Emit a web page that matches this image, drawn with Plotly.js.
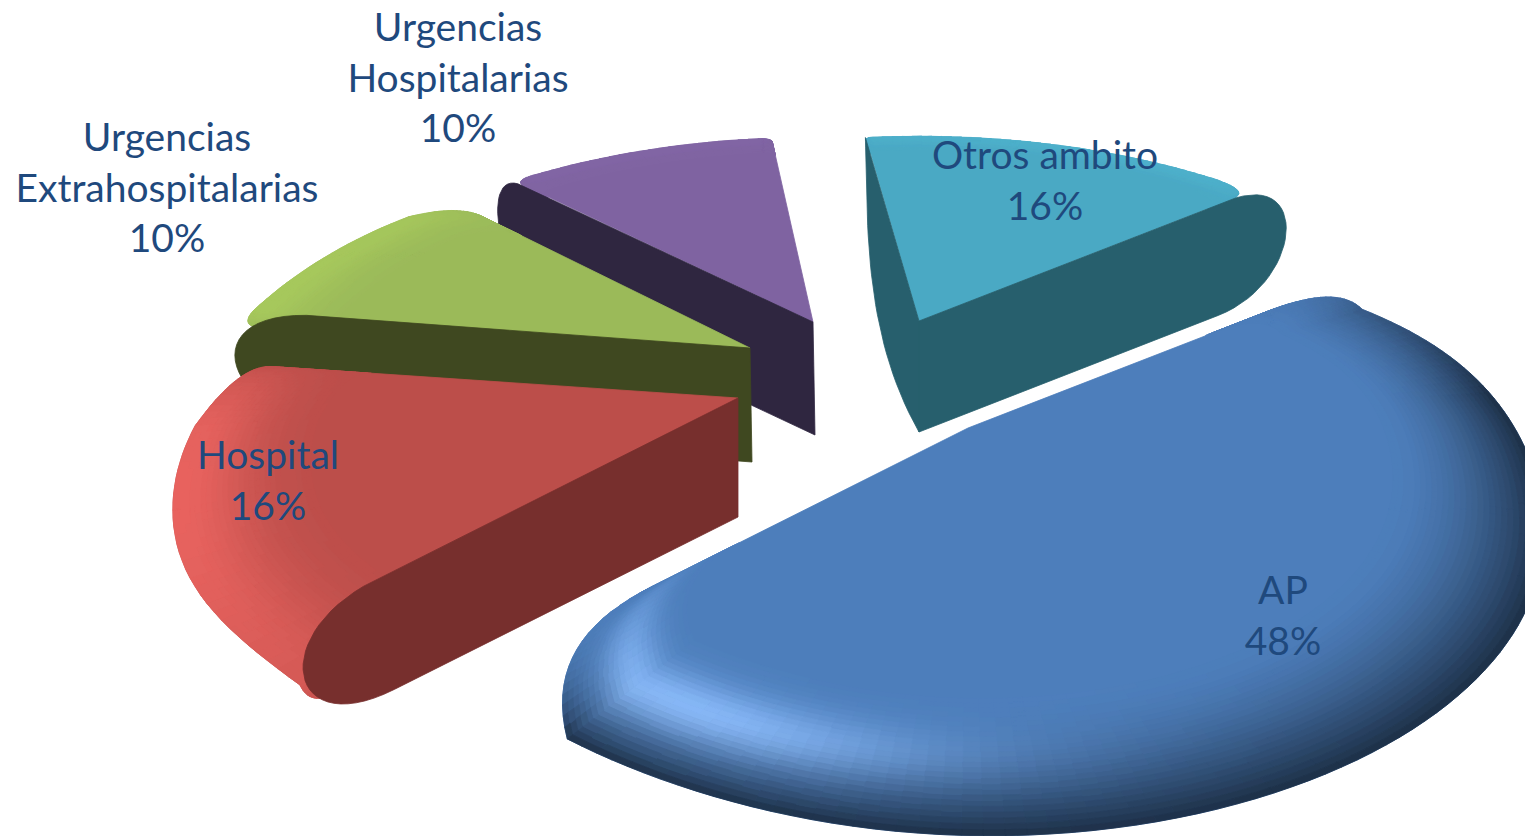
<!DOCTYPE html>
<html>
<head>
<meta charset="utf-8">
<script src="https://cdn.plot.ly/plotly-3.0.1.min.js"></script>
<style>html,body{margin:0;padding:0;background:#fff;overflow:hidden}#chart{width:1525px;height:836px}</style>
</head>
<body>
<div id="chart"></div>
<script>
// ---- data ----
const labels = ["AP", "Hospital", "Urgencias<br>Extrahospitalarias", "Urgencias<br>Hospitalarias", "Otros ambito"];
const values = [48, 16, 10, 10, 16];

// ---- styles ----
const topColors  = ["#4D7EBB", "#BC4E4A", "#9BBA59", "#7F63A1", "#4AA9C4"];
const hiColors   = ["#8CBEFF", "#E8635F", "#AFD35F", "#8A6CAE", "#52BAD6"];
const faceColors = ["#1F3A5C", "#772F2D", "#3F4820", "#2F2640", "#275F6D"];
const textColor = "#1F497D";
const firstAngle = 39;

// ---- perspective & explode layout ----
const W = 1525, H = 836;
const persp = {a: 530, b: 255, k: 0.38};
const apexX = [968, 738, 750, 813, 919];
const apexY = [428, 398, 348, 322, 321];
const startNudge = [0, 10.5, 6.5, 3.1, 1.4];
const endNudge   = [0, 3.4, 1.8, -0.4, 0];
const startEdgeT = [0.88, 0.95, 0.95, 0.95, 0.98];
const startInset = [7, 3, 4, 3, 1];
const startCorner= [1.14, 1, 1, 1, 1];
const endEdgeT   = [0.70, 0.93, 0.90, 0.97, 0.93];
const endInset   = [12, 14, 7, 2, 6];
const endCorner  = [0.88, 1, 1, 1, 1];
const rimAdjust  = [
  [{amt: 0.07, c: 25, w: 28}, {amt: -0.02, c: -118, w: 25}],
  [{amt: -0.012, c: -165, w: 30}, {amt: -0.02, c: -128, w: 15}],
  [{amt: 0.025, c: -222, w: 25}], [], []
];
const bevelStart = [0.76, 0.78, 0.82, 0.9, 0.9];
const darkAmount = [0.62, 0, 0, 0, 0];
const lightAmount= [1, 1, 0.55, 0.3, 0.4];
const lightCenter= [-116, -160, -190, -240, -300];
const lightWidth = [24, 45, 60, 60, 60];
const bumpCenter = [0.50, 0.95, 0.9, 0.9, 0.9];
const bumpWidth  = [0.24, 0.5, 0.5, 0.5, 0.5];
const faces = [
  {s: 4, side: "start", nudge: 1.4, tTop: 1.0,  tBot: 0,    cap: -100, capB: 100, ox: -26, depth: 111},
  {s: 4, side: "end",   nudge: 0,   tTop: 0.93, tBot: 0.90, cap: 90,  ox: 0, depth: 111},
  {s: 3, side: "start", nudge: 3.1, tTop: 0.97, tBot: 0.90, cap: 50,  ox: 0, depth: 113, dx: 2},
  {s: 2, side: "start", nudge: 2.6, tTop: 0.87, tBot: 0.80, cap: 135, ox: 0, depth: 114, dx: 2},
  {s: 1, side: "start", nudge: 0,   tTop: 0.72, tBot: 0.68, cap: 120, ox: 0, depth: 119}
];
const drawOrder = [4, 3, 2, 1, 0];
const textX = [1283, 268, 167, 458, 1045];
const textY = [620, 485, 192, 82, 185];
const rings = 26;

// ---- geometry helpers, everything derived from the values ----
const rad = d => d * Math.PI / 180;
const dir = d => [Math.cos(rad(d)), Math.sin(rad(d))];
const total = values.reduce((p, c) => p + c, 0);
const bounds = [firstAngle];
values.forEach((v, i) => bounds.push(bounds[i] - v / total * 360));

function project(i, p) {
  const d = 1 + persp.k * p[1];
  return [apexX[i] + persp.a * p[0] / d, apexY[i] - persp.b * p[1] / d];
}
function qbez(p0, c, p1, t) {
  const m = 1 - t;
  return [m*m*p0[0] + 2*m*t*c[0] + t*t*p1[0], m*m*p0[1] + 2*m*t*c[1] + t*t*p1[1]];
}
function rimPoint(i, th) {
  let r = 1;
  rimAdjust[i].forEach(a => { r += a.amt * Math.exp(-Math.pow((th - a.c) / a.w, 2)); });
  const d = dir(th);
  return [d[0]*r, d[1]*r];
}
function rim(i) {
  const A = bounds[i] + startNudge[i], B = bounds[i + 1] + endNudge[i];
  const out = [];
  const dA = dir(A), dB = dir(B);
  const e1 = [dA[0]*startEdgeT[i], dA[1]*startEdgeT[i]];
  const c1 = [dA[0]*startCorner[i], dA[1]*startCorner[i]];
  const a1 = A - startInset[i], a2 = B + endInset[i];
  const r1 = rimPoint(i, a1);
  const r2 = rimPoint(i, a2);
  const e2 = [dB[0]*endEdgeT[i], dB[1]*endEdgeT[i]];
  const c2 = [dB[0]*endCorner[i], dB[1]*endCorner[i]];
  const nB = 18;
  for (let j = 0; j <= nB; j++) { const t = j/nB; out.push({p: qbez(e1, c1, r1, t), th: A - startInset[i]*t, w: t, wd: t}); }
  const nA = Math.max(8, Math.round(Math.abs(a1 - a2) / 1.5));
  for (let j = 1; j < nA; j++) { const th = a1 + (a2 - a1)*j/nA; out.push({p: rimPoint(i, th), th, w: 1, wd: 1}); }
  for (let j = 0; j <= nB; j++) { const t = j/nB; out.push({p: qbez(r2, c2, e2, t), th: a2 - endInset[i]*t, w: 1 - t, wd: Math.pow(1 - t, 4)}); }
  return out;
}
function hex2rgb(h) { return [1,3,5].map(k => parseInt(h.substr(k,2),16)); }
function shade(i, u, th, w, wd) {
  const base = hex2rgb(topColors[i]), hi = hex2rgb(hiColors[i]);
  const g = Math.exp(-Math.pow((th - lightCenter[i]) / lightWidth[i], 2));
  const bump = Math.exp(-Math.pow((u - bumpCenter[i]) / bumpWidth[i], 2));
  const l = lightAmount[i] * g * bump * w;
  const fadeTop = Math.min(1, 0.3 + (bounds[i] - th) / 45);
  const d = darkAmount[i] * Math.pow(u, 1.7 + 2.2 * g) * wd * fadeTop;
  return base.map((c, k) => {
    const v = (c + (hi[k] - c) * l) * (1 - d);
    return Math.max(0, Math.min(255, Math.round(v / 2) * 2));
  });
}
function poly(xs, ys, color) {
  return {type: "scatter", mode: "lines", x: xs, y: ys, fill: "toself", fillcolor: color,
          line: {color: color, width: 0.8}, hoverinfo: "skip", showlegend: false, connectgaps: false};
}
function surfaceTraces(i) {
  const R = rim(i), tr = [];
  const xs = [apexX[i]], ys = [apexY[i]];
  R.forEach(q => { const s = project(i, q.p); xs.push(s[0]); ys.push(s[1]); });
  xs.push(apexX[i]); ys.push(apexY[i]);
  tr.push(poly(xs, ys, topColors[i]));
  const groups = {};
  const s0 = bevelStart[i];
  for (let k = 0; k < rings; k++) {
    const s1 = s0 + (1 - s0)*k/rings, s2 = s0 + (1 - s0)*(k + 1)/rings, u = (k + 0.5)/rings;
    for (let j = 0; j < R.length - 1; j++) {
      const a = R[j], b = R[j + 1];
      const c = shade(i, u, (a.th + b.th)/2, (a.w + b.w)/2, (a.wd + b.wd)/2).join(",");
      const g = groups[c] || (groups[c] = {x: [], y: []});
      const pts = [[a.p, s1], [b.p, s1], [b.p, s2], [a.p, s2], [a.p, s1]];
      pts.forEach(q => { const m = project(i, [q[0][0]*q[1], q[0][1]*q[1]]); g.x.push(m[0]); g.y.push(m[1]); });
      g.x.push(null); g.y.push(null);
    }
  }
  Object.keys(groups).forEach(c => tr.push(poly(groups[c].x, groups[c].y, "rgb(" + c + ")")));
  return tr;
}
function faceTrace(f) {
  const i = f.s;
  const ang = (f.side === "start" ? bounds[i] : bounds[i + 1]) + f.nudge;
  const corner = project(i, dir(ang));
  const vx = corner[0] - apexX[i], vy = corner[1] - apexY[i];
  const len = Math.hypot(vx, vy), ex = vx/len, ey = vy/len;
  const qx = apexX[i] + (f.dx || 0), qy = apexY[i] + f.depth;
  const capB = f.capB === undefined ? f.cap : f.capB;
  const T = [apexX[i] + vx*f.tTop, apexY[i] + vy*f.tTop];
  const B = [qx + vx*f.tBot, qy + vy*f.tBot];
  const C1 = [T[0] + ex*f.cap + f.ox, T[1] + ey*f.cap];
  const C2 = [B[0] + ex*capB + f.ox, B[1] + ey*capB];
  const xs = [apexX[i]], ys = [apexY[i]];
  for (let j = 0; j <= 30; j++) {
    const t = j/30, m = 1 - t;
    xs.push(m*m*m*T[0] + 3*m*m*t*C1[0] + 3*m*t*t*C2[0] + t*t*t*B[0]);
    ys.push(m*m*m*T[1] + 3*m*m*t*C1[1] + 3*m*t*t*C2[1] + t*t*t*B[1]);
  }
  xs.push(qx, apexX[i]); ys.push(qy, apexY[i]);
  return poly(xs, ys, faceColors[i]);
}

const traces = [];
drawOrder.forEach(i => {
  surfaceTraces(i).forEach(t => traces.push(t));
  faces.filter(f => f.s === i).forEach(f => traces.push(faceTrace(f)));
});
traces.push({
  type: "scatter", mode: "text", x: textX, y: textY,
  text: labels.map((l, i) => l + "<br>" + Math.round(values[i] / total * 100) + "%"),
  textposition: "middle center", cliponaxis: false, hoverinfo: "skip", showlegend: false,
  textfont: {family: "Lato, 'Open Sans', sans-serif", size: 39, color: textColor}
});

const layout = {
  width: W, height: H, margin: {l: 0, r: 0, t: 0, b: 0, pad: 0},
  paper_bgcolor: "#FFFFFF", plot_bgcolor: "#FFFFFF", showlegend: false, hovermode: false,
  xaxis: {range: [0, W], visible: false, fixedrange: true},
  yaxis: {range: [H, 0], visible: false, fixedrange: true}
};
Plotly.newPlot("chart", traces, layout, {displayModeBar: false, staticPlot: true});
</script>
</body>
</html>
